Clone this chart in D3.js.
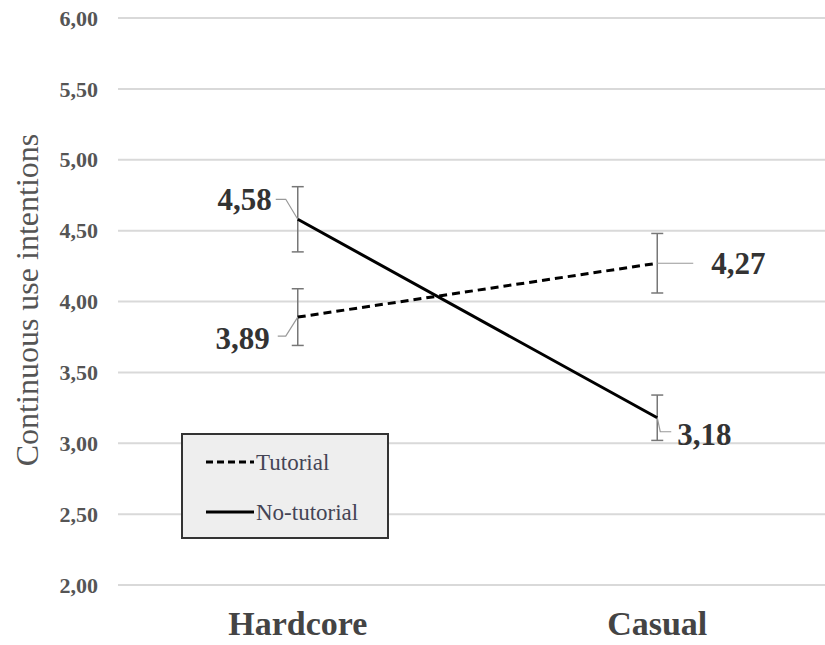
<!DOCTYPE html>
<html>
<head>
<meta charset="utf-8">
<script src="https://cdn.jsdelivr.net/npm/d3@7"></script>
<style>
  body { margin: 0; background: #fff; }
  svg text { font-family: "Liberation Serif", "Times New Roman", "DejaVu Serif", serif; }
</style>
</head>
<body>
<div id="viz"></div>
<script>
const width = 825;
const height = 645;

// data
const categories = ["Hardcore", "Casual"];
const seriesNames = ["Tutorial", "No-tutorial"];
const tutorialMeans = [3.89, 4.27];
const tutorialErr = [0.20, 0.21];
const noTutorialMeans = [4.58, 3.18];
const noTutorialErr = [0.23, 0.16];
const yTicks = [2, 2.5, 3, 3.5, 4, 4.5, 5, 5.5, 6];

const series = [
  {name: seriesNames[0], means: tutorialMeans, err: tutorialErr, dash: "8,5"},
  {name: seriesNames[1], means: noTutorialMeans, err: noTutorialErr, dash: null}
];

const svg = d3.select("#viz").append("svg")
  .attr("width", width)
  .attr("height", height);

const x = d3.scaleBand()
  .domain(categories)
  .range([118, 837]);

const y = d3.scaleLinear()
  .domain([2, 6])
  .range([585, 18]);

const fmt = v => d3.format(".2f")(v).replace(".", ",");
const cx = c => x(c) + x.bandwidth() / 2;

// gridlines
svg.append("g")
  .selectAll("line")
  .data(yTicks)
  .join("line")
  .attr("x1", 118)
  .attr("x2", width)
  .attr("y1", d => y(d))
  .attr("y2", d => y(d))
  .attr("stroke", "#d9d9d9")
  .attr("stroke-width", 2);

// y tick labels
svg.append("g")
  .selectAll("text")
  .data(yTicks)
  .join("text")
  .attr("x", 98)
  .attr("y", d => y(d))
  .attr("dy", "0.35em")
  .attr("text-anchor", "end")
  .style("font-size", "22px")
  .style("font-weight", "bold")
  .style("fill", "#555")
  .text(fmt);

// y axis title
svg.append("text")
  .attr("transform", "translate(38,300) rotate(-90)")
  .attr("text-anchor", "middle")
  .style("font-size", "32px")
  .style("fill", "#555")
  .text("Continuous use intentions");

// category labels
svg.append("g")
  .selectAll("text")
  .data(categories)
  .join("text")
  .attr("x", d => cx(d))
  .attr("y", 635)
  .attr("text-anchor", "middle")
  .style("font-size", "34px")
  .style("font-weight", "bold")
  .style("fill", "#444")
  .text(d => d);

// error bars
series.forEach(s => {
  categories.forEach((c, i) => {
    const g = svg.append("g").attr("stroke", "#777").attr("stroke-width", 1.5);
    const top = y(s.means[i] + s.err[i]);
    const bot = y(s.means[i] - s.err[i]);
    g.append("line").attr("x1", cx(c)).attr("x2", cx(c)).attr("y1", top).attr("y2", bot);
    g.append("line").attr("x1", cx(c) - 6).attr("x2", cx(c) + 6).attr("y1", top).attr("y2", top);
    g.append("line").attr("x1", cx(c) - 6).attr("x2", cx(c) + 6).attr("y1", bot).attr("y2", bot);
  });
});

// lines
const line = d3.line()
  .x((d, i) => cx(categories[i]))
  .y(d => y(d));

series.forEach(s => {
  svg.append("path")
    .datum(s.means)
    .attr("d", line)
    .attr("fill", "none")
    .attr("stroke", "#000")
    .attr("stroke-width", 3)
    .attr("stroke-dasharray", s.dash);
});

// data labels with leader lines
const labelStyle = sel => sel
  .style("font-size", "31px")
  .style("font-weight", "bold")
  .style("fill", "#333");

function leader(points) {
  svg.append("path")
    .attr("d", d3.line()(points))
    .attr("fill", "none")
    .attr("stroke", "#999")
    .attr("stroke-width", 1.2);
}

// 4,58 (No-tutorial, Hardcore)
let px = cx(categories[0]), py = y(noTutorialMeans[0]);
leader([[px, py], [px - 12, py - 20], [px - 22, py - 20]]);
svg.append("text").attr("x", px - 26).attr("y", py - 9)
  .attr("text-anchor", "end").call(labelStyle).text(fmt(noTutorialMeans[0]));

// 3,89 (Tutorial, Hardcore)
px = cx(categories[0]); py = y(tutorialMeans[0]);
leader([[px, py], [px - 12, py + 19], [px - 20, py + 19]]);
svg.append("text").attr("x", px - 28).attr("y", py + 32)
  .attr("text-anchor", "end").call(labelStyle).text(fmt(tutorialMeans[0]));

// 4,27 (Tutorial, Casual)
px = cx(categories[1]); py = y(tutorialMeans[1]);
leader([[px, py], [px + 36, py]]);
svg.append("text").attr("x", px + 54).attr("y", py + 11)
  .call(labelStyle).text(fmt(tutorialMeans[1]));

// 3,18 (No-tutorial, Casual)
px = cx(categories[1]); py = y(noTutorialMeans[1]);
leader([[px, py], [px + 3, py + 14], [px + 14, py + 14]]);
svg.append("text").attr("x", px + 20).attr("y", py + 27)
  .call(labelStyle).text(fmt(noTutorialMeans[1]));

// legend
const legend = svg.append("g").attr("transform", "translate(182,434)");
legend.append("rect")
  .attr("width", 206)
  .attr("height", 104)
  .attr("fill", "#eeeeee")
  .attr("stroke", "#333")
  .attr("stroke-width", 2);

legend.selectAll("line.key")
  .data(series)
  .join("line")
  .attr("class", "key")
  .attr("x1", 24)
  .attr("x2", 72)
  .attr("y1", (d, i) => 28 + i * 50)
  .attr("y2", (d, i) => 28 + i * 50)
  .attr("stroke", "#000")
  .attr("stroke-width", 3)
  .attr("stroke-dasharray", d => d.dash ? "7,4" : null);

legend.selectAll("text")
  .data(series)
  .join("text")
  .attr("x", 74)
  .attr("y", (d, i) => 28 + i * 50)
  .attr("dy", "0.35em")
  .style("font-size", "23px")
  .style("fill", "#445")
  .text(d => d.name);
</script>
</body>
</html>
